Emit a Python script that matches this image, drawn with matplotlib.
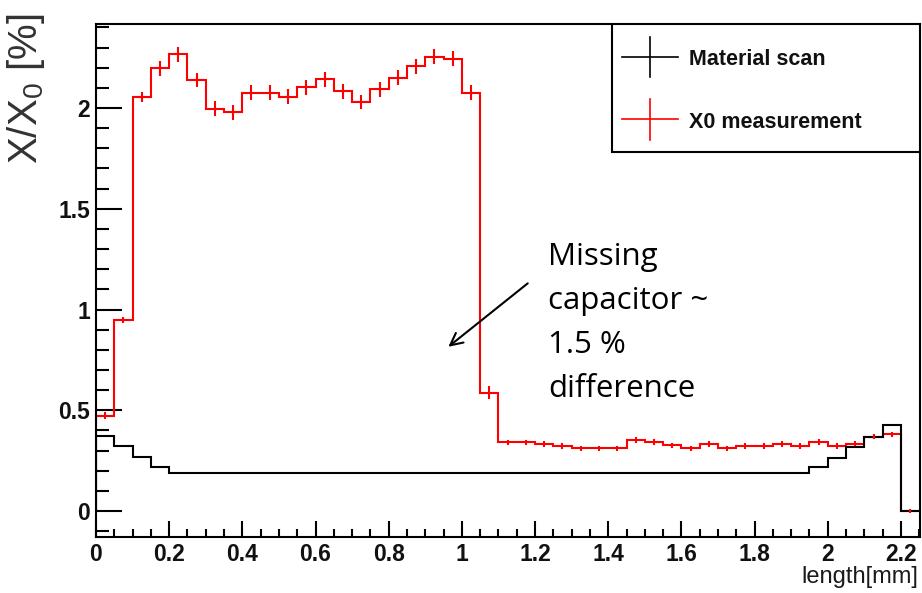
import numpy as np
import matplotlib
matplotlib.use('Agg')
import matplotlib.pyplot as plt
from matplotlib import font_manager
from matplotlib.patches import Rectangle
from matplotlib.ticker import MultipleLocator, FormatStrFormatter

# pick a narrow sans if it is there (the original plot is squeezed sideways)
names = {f.name for f in font_manager.fontManager.ttflist}
narrow = 'Liberation Sans Narrow' if 'Liberation Sans Narrow' in names else 'Liberation Sans'

plt.rcParams['font.family'] = [narrow, 'DejaVu Sans']
plt.rcParams['font.weight'] = 'bold'
plt.rcParams['mathtext.fontset'] = 'custom'
plt.rcParams['mathtext.rm'] = 'Liberation Sans:weight=normal'
plt.rcParams['mathtext.it'] = 'Liberation Sans:italic:weight=normal'
plt.rcParams['mathtext.bf'] = 'Liberation Sans:bold'

# histogram bins, 0.05 mm wide
bin_width = 0.05

# material scan (black)
material = [0.372, 0.324, 0.268, 0.217,
            0.188, 0.188, 0.188, 0.188, 0.188, 0.188, 0.188,
            0.188, 0.188, 0.188, 0.188, 0.188, 0.188, 0.188,
            0.188, 0.188, 0.188, 0.188, 0.188, 0.188, 0.188,
            0.188, 0.188, 0.188, 0.188, 0.188, 0.188, 0.188,
            0.188, 0.188, 0.188, 0.188, 0.188, 0.188, 0.188,
            0.217, 0.261, 0.319, 0.369, 0.427, 0.0]

# X0 measurement (red) and its errors
x0_meas = [0.473, 0.948, 2.056, 2.197, 2.266, 2.139, 1.997, 1.979, 2.076, 2.076,
           2.056, 2.103, 2.142, 2.084, 2.030, 2.093, 2.151, 2.208, 2.255, 2.245,
           2.076, 0.587, 0.341, 0.341, 0.333, 0.323, 0.311, 0.311, 0.311, 0.351,
           0.343, 0.326, 0.311, 0.333, 0.311, 0.323, 0.323, 0.333, 0.323, 0.343,
           0.323, 0.335, 0.369, 0.380, 0.0]
x0_err = [0.017, 0.015, 0.025, 0.037, 0.037, 0.037, 0.037, 0.037, 0.037, 0.037,
          0.037, 0.037, 0.037, 0.037, 0.037, 0.037, 0.037, 0.037, 0.037, 0.037,
          0.037, 0.033, 0.013, 0.013, 0.013, 0.013, 0.013, 0.013, 0.013, 0.015,
          0.013, 0.013, 0.013, 0.013, 0.013, 0.013, 0.013, 0.013, 0.013, 0.013,
          0.013, 0.013, 0.013, 0.013, 0.012]

labels = ['Material scan', 'X0 measurement']
note_lines = ['Missing', 'capacitor ~', '1.5 %', 'difference']

edges = np.arange(len(x0_meas) + 1) * bin_width
centers = edges[:-1] + bin_width / 2

fig = plt.figure(figsize=(9.22, 5.93), dpi=100)
ax = fig.add_axes([0.1041, 0.0944, 0.8937, 0.8651])

ax.stairs(x0_meas, edges, color='red', lw=1.5, zorder=2)
ax.stairs(material, edges, color='black', lw=1.5, zorder=3)
ax.errorbar(centers, x0_meas, yerr=x0_err, fmt='none', ecolor='red',
            elinewidth=1.5, zorder=4)

ax.set_xlim(0, 2.252)
ax.set_ylim(-0.129, 2.417)

# ROOT style ticks
ax.xaxis.set_major_locator(MultipleLocator(0.2))
ax.xaxis.set_minor_locator(MultipleLocator(0.05))
ax.yaxis.set_major_locator(MultipleLocator(0.5))
ax.yaxis.set_minor_locator(MultipleLocator(0.1))
ax.xaxis.set_major_formatter(FormatStrFormatter('%g'))
ax.yaxis.set_major_formatter(FormatStrFormatter('%g'))
ax.tick_params(which='both', direction='in', top=False, right=False,
               width=1.5, labelsize=16.5, labelcolor='#111111')
ax.tick_params(axis='x', which='major', length=11.3, pad=4)
ax.tick_params(axis='x', which='minor', length=6)
ax.tick_params(axis='y', which='major', length=18.7, pad=4.3)
ax.tick_params(axis='y', which='minor', length=9.1)
for s in ax.spines.values():
    s.set_linewidth(1.5)

ax.set_xlabel('length[mm]', fontsize=17, fontweight='normal', color='#1a1a1a',
              ha='right', va='baseline')
ax.xaxis.set_label_coords(0.9976, -0.0897)
ax.set_ylabel('X/X$_0$ [%]', fontsize=29, fontfamily='Liberation Sans',
              fontweight='normal', color='#333333', va='center')
ax.yaxis.set_label_coords(-0.085, 0.873)

# legend box, drawn by hand like the ROOT TLegend
ax.add_patch(Rectangle((0.626, 0.7505), 0.374, 0.2495, transform=ax.transAxes,
                       facecolor='white', edgecolor='black', lw=1.5, zorder=6))
for row, (lab, col) in enumerate(zip(labels, ['black', 'red'])):
    yc = [0.9357, 0.8142][row]
    ax.plot([0.638, 0.7066], [yc, yc], color=col, lw=1.2,
            transform=ax.transAxes, zorder=7, clip_on=False)
    ax.plot([0.672, 0.672], [yc - 0.0395, yc + 0.0395], color=col, lw=1.2,
            transform=ax.transAxes, zorder=7, clip_on=False)
    ax.text(0.7197, yc - 0.0165, lab, transform=ax.transAxes, fontsize=15.5,
            color='#111111', va='baseline', ha='left', zorder=7)

# note about the missing capacitor
for i, line in enumerate(note_lines):
    ax.annotate(line, xy=(1.235, 1.221), xytext=(0, -i * 31.7),
                textcoords='offset points', fontsize=22.5, fontfamily='Open Sans',
                fontweight='normal', color='black', va='baseline', ha='left')
ax.annotate('', xy=(0.963, 0.815), xytext=(1.180, 1.130),
            arrowprops=dict(arrowstyle='->', color='black', lw=1.5,
                            shrinkA=0, shrinkB=0, mutation_scale=22))

fig.savefig('out.png', dpi=100)
